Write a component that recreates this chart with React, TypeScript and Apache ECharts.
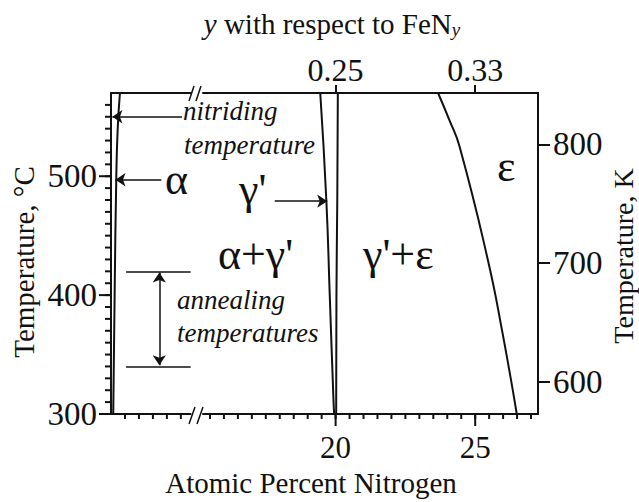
import React, { useEffect, useRef } from "react";
import * as echarts from "echarts";

// ---- data ----
const tempMinC = 300;
const tempMaxC = 570;
const kelvinOffset = 273.15;
const tempTicksC = [300, 400, 500];
const tempTicksK = [600, 700, 800];
const nitrogenMajorTicks = [20, 25];
const nitrogenMajorLabels = ["20", "25"];
const yFeNLabels = ["0.25", "0.33"];
const leftNMin = 0;
const leftNMax = 2.85;
const rightNMin = 15.25;
const rightNMax = 27.25;
const leftMinorTicks = [0.5, 1, 1.5, 2, 2.5];
const rightMinorTicks: number[] = [];
for (let v = 15.5; v <= 27; v += 0.5) rightMinorTicks.push(v);
const tempMinorTicks: number[] = [];
for (let t = 310; t < 570; t += 10) tempMinorTicks.push(t);

// phase boundaries: [at.% N, temperature °C]
const alphaSolvus = [[0.32, 570], [0.24, 540], [0.19, 500], [0.13, 400], [0.08, 300]];
const gammaLeftBoundary = [[19.45, 570], [19.67, 479], [19.79, 400], [19.93, 308], [19.95, 300]];
const gammaRightBoundary = [[20.08, 570], [20.06, 480], [20.03, 400], [20.02, 300]];
const epsilonBoundary = [[23.67, 570], [24.08, 547], [24.44, 525], [25.45, 430], [25.98, 368], [26.49, 300]];

// annotations
const nitridingTemp = 550;
const alphaArrowTemp = 497;
const gammaArrowTemp = 479;
const annealingTemps = [420, 340];

const FONT = "'Liberation Serif', 'Times New Roman', serif";
const BLACK = "#111";

export default function App() {
  const ref = useRef<HTMLDivElement>(null);
  useEffect(() => {
    if (!ref.current) return;
    const chart = echarts.init(ref.current, undefined, { renderer: "svg" });
    const axisLine = () => ({ show: true, onZero: false, lineStyle: { color: BLACK, width: 2 } });
    const lineStyle = { color: BLACK, width: 2 };
    const tickStyle = () => ({ color: BLACK, width: 2 });
    const markLineBase = {
      silent: true,
      animation: false,
      symbol: ["none", "arrow"],
      symbolSize: 10,
      label: { show: false },
      lineStyle: { color: BLACK, width: 1.5, type: "solid" },
      emphasis: { disabled: true },
    };
    const tickLabel = { color: BLACK, fontFamily: FONT, fontSize: 33 };

    // tick marks drawn through the axes' scales
    const tickSeries = (xi: number, yi: number, data: number[][], len: number, dir: "down" | "left") => ({
      type: "custom", xAxisIndex: xi, yAxisIndex: yi, silent: true, clip: false, z: 10,
      data,
      renderItem: (_p: any, api: any) => {
        const pt = api.coord([api.value(0), api.value(1)]);
        const shape = dir === "down"
          ? { x1: pt[0], y1: pt[1], x2: pt[0], y2: pt[1] + len }
          : { x1: pt[0], y1: pt[1], x2: pt[0] - len, y2: pt[1] };
        return { type: "line", shape, style: { stroke: BLACK, lineWidth: 2 } };
      },
    });

    const option: any = {
      animation: false,
      backgroundColor: "#fff",
      grid: [
        { left: 111, top: 93, width: (leftNMax - leftNMin) * 27.94, bottom: 88 },
        { left: 203, top: 93, right: 101, bottom: 88 },
      ],
      xAxis: [
        {
          gridIndex: 0, type: "value", position: "bottom", min: leftNMin, max: leftNMax,
          axisLine: axisLine(), splitLine: { show: false }, axisTick: { show: false }, axisLabel: { show: false },
        },
        {
          gridIndex: 0, type: "value", position: "top", min: leftNMin, max: leftNMax,
          axisLine: axisLine(), splitLine: { show: false }, axisTick: { show: false }, axisLabel: { show: false },
        },
        {
          gridIndex: 1, type: "value", position: "bottom", min: rightNMin, max: rightNMax,
          axisLine: axisLine(), splitLine: { show: false }, axisTick: { show: false },
          axisLabel: {
            ...tickLabel, fontSize: 31, margin: 18, customValues: nitrogenMajorTicks,
            formatter: (v: number) => nitrogenMajorLabels[nitrogenMajorTicks.indexOf(v)] ?? "",
          },
        },
        {
          gridIndex: 1, type: "value", position: "top", min: rightNMin, max: rightNMax,
          axisLine: axisLine(), splitLine: { show: false },
          axisTick: { show: true, customValues: nitrogenMajorTicks, length: 8, lineStyle: tickStyle() },
          axisLabel: {
            ...tickLabel, fontSize: 32, margin: 7, customValues: nitrogenMajorTicks,
            formatter: (v: number) => yFeNLabels[nitrogenMajorTicks.indexOf(v)] ?? "",
          },
        },
      ],
      yAxis: [
        {
          gridIndex: 0, type: "value", position: "left", min: tempMinC, max: tempMaxC,
          axisLine: axisLine(), splitLine: { show: false }, axisTick: { show: false },
          axisLabel: { ...tickLabel, margin: 14, customValues: tempTicksC },
        },
        { gridIndex: 1, type: "value", show: false, position: "left", min: tempMinC, max: tempMaxC },
        {
          gridIndex: 1, type: "value", position: "right", min: tempMinC + kelvinOffset, max: tempMaxC + kelvinOffset,
          axisLine: axisLine(), splitLine: { show: false },
          axisTick: { show: true, customValues: tempTicksK, length: 12, lineStyle: tickStyle() },
          axisLabel: { ...tickLabel, margin: 15, customValues: tempTicksK },
        },
      ],
      series: [
        {
          type: "line", xAxisIndex: 0, yAxisIndex: 0, data: alphaSolvus, showSymbol: false, symbol: "none",
          smooth: true, lineStyle, silent: true,
          markLine: {
            ...markLineBase,
            data: [
              [{ coord: [2.54, nitridingTemp] }, { coord: [0.05, nitridingTemp] }],
              [{ coord: [1.8, alphaArrowTemp] }, { coord: [0.16, alphaArrowTemp] }],
              [{ coord: [0.54, annealingTemps[0]], symbol: "none" }, { coord: [2.85, annealingTemps[0]], symbol: "none" }],
              [{ coord: [0.54, annealingTemps[1]], symbol: "none" }, { coord: [2.85, annealingTemps[1]], symbol: "none" }],
              [{ coord: [1.73, annealingTemps[1] + 1], symbol: "arrow" }, { coord: [1.73, annealingTemps[0] - 1], symbol: "arrow" }],
            ],
          },
        },
        {
          type: "line", xAxisIndex: 2, yAxisIndex: 1, data: gammaLeftBoundary, showSymbol: false, symbol: "none",
          smooth: true, lineStyle, silent: true,
          markLine: {
            ...markLineBase,
            data: [[{ coord: [17.82, gammaArrowTemp] }, { coord: [19.7, gammaArrowTemp] }]],
          },
        },
        {
          type: "line", xAxisIndex: 2, yAxisIndex: 1, data: gammaRightBoundary, showSymbol: false, symbol: "none",
          smooth: true, lineStyle, silent: true,
        },
        {
          type: "line", xAxisIndex: 2, yAxisIndex: 1, data: epsilonBoundary, showSymbol: false, symbol: "none",
          smooth: true, lineStyle, silent: true,
        },
        tickSeries(0, 0, leftMinorTicks.map((v) => [v, tempMinC]), 5, "down"),
        tickSeries(2, 1, rightMinorTicks.map((v) => [v, tempMinC]), 5, "down"),
        tickSeries(2, 1, nitrogenMajorTicks.map((v) => [v, tempMinC]), 12, "down"),
        tickSeries(0, 0, tempMinorTicks.map((t) => [leftNMin, t]), 6, "left"),
        tickSeries(0, 0, tempTicksC.map((t) => [leftNMin, t]), 12, "left"),
      ],
      graphic: [
        // axis break marks
        { type: "line", shape: { x1: 189, y1: 424, x2: 195, y2: 407 }, style: { stroke: BLACK, lineWidth: 1.5 } },
        { type: "line", shape: { x1: 197, y1: 424, x2: 203, y2: 407 }, style: { stroke: BLACK, lineWidth: 1.5 } },
        { type: "line", shape: { x1: 189, y1: 101, x2: 194, y2: 86 }, style: { stroke: BLACK, lineWidth: 1.5 } },
        { type: "line", shape: { x1: 196, y1: 101, x2: 201, y2: 86 }, style: { stroke: BLACK, lineWidth: 1.5 } },
        // axis titles
        {
          type: "text", x: 332, y: 24,
          style: {
            text: "{i|y} with respect to FeN{s|y}",
            fontSize: 29, fontFamily: FONT, fill: BLACK, lineHeight: 30,
            textAlign: "center", textVerticalAlign: "middle",
            rich: {
              i: { fontStyle: "italic", fontSize: 29, fontFamily: FONT, lineHeight: 30 },
              s: { fontStyle: "italic", fontSize: 19, fontFamily: FONT, lineHeight: 10, verticalAlign: "bottom" },
            },
          },
        },
        {
          type: "text", x: 311, y: 483,
          style: { text: "Atomic Percent Nitrogen", fontSize: 29, fontFamily: FONT, fill: BLACK, textAlign: "center", textVerticalAlign: "middle" },
        },
        {
          type: "text", x: 24, y: 262, rotation: Math.PI / 2,
          style: { text: "Temperature, °C", fontSize: 29, fontFamily: FONT, fill: BLACK, textAlign: "center", textVerticalAlign: "middle" },
        },
        {
          type: "text", x: 623, y: 256, rotation: Math.PI / 2,
          style: { text: "Temperature, K", fontSize: 28, fontFamily: FONT, fill: BLACK, textAlign: "center", textVerticalAlign: "middle" },
        },
        // annotation labels
        { type: "text", x: 183, y: 111, style: { text: "nitriding", fontSize: 27, fontStyle: "italic", fontFamily: FONT, fill: BLACK, textAlign: "left", textVerticalAlign: "middle" } },
        { type: "text", x: 184, y: 145, style: { text: "temperature", fontSize: 27, fontStyle: "italic", fontFamily: FONT, fill: BLACK, textAlign: "left", textVerticalAlign: "middle" } },
        { type: "text", x: 177, y: 300, style: { text: "annealing", fontSize: 27, fontStyle: "italic", fontFamily: FONT, fill: BLACK, textAlign: "left", textVerticalAlign: "middle" } },
        { type: "text", x: 177, y: 333, style: { text: "temperatures", fontSize: 27, fontStyle: "italic", fontFamily: FONT, fill: BLACK, textAlign: "left", textVerticalAlign: "middle" } },
        { type: "text", x: 165, y: 179, style: { text: "α", fontSize: 44, fontFamily: FONT, fill: BLACK, textAlign: "left", textVerticalAlign: "middle" } },
        { type: "text", x: 239, y: 189, style: { text: "γ'", fontSize: 44, fontFamily: FONT, fill: BLACK, textAlign: "left", textVerticalAlign: "middle" } },
        { type: "text", x: 218, y: 254, style: { text: "α+γ'", fontSize: 44, fontFamily: FONT, fill: BLACK, textAlign: "left", textVerticalAlign: "middle" } },
        { type: "text", x: 363, y: 254, style: { text: "γ'+ε", fontSize: 44, fontFamily: FONT, fill: BLACK, textAlign: "left", textVerticalAlign: "middle" } },
        { type: "text", x: 497, y: 166, style: { text: "ε", fontSize: 44, fontFamily: FONT, fill: BLACK, textAlign: "left", textVerticalAlign: "middle" } },
      ],
    };
    chart.setOption(option);
    return () => chart.dispose();
  }, []);
  return (
    <div
      ref={ref}
      style={{ position: "absolute", left: 0, top: 0, width: 639, height: 502, background: "#fff" }}
    />
  );
}
